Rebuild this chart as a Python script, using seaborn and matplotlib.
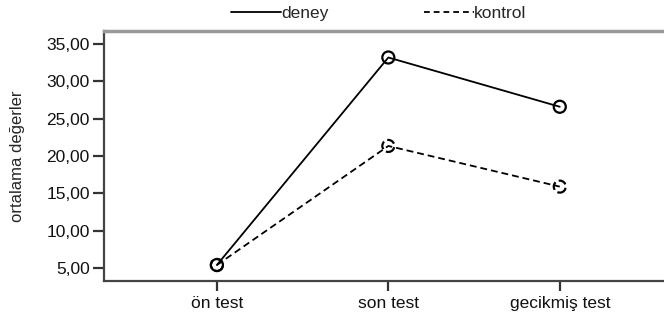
import matplotlib
matplotlib.use('Agg')
import matplotlib.pyplot as plt
from matplotlib.lines import Line2D
from matplotlib.ticker import FuncFormatter
import seaborn as sns
import pandas as pd

# data
tests = ["ön test", "son test", "gecikmiş test"]
deney = [5.4, 33.2, 26.6]
kontrol = [5.4, 21.35, 15.9]
y_ticks = [5, 10, 15, 20, 25, 30, 35]

df = pd.DataFrame({
    "test": tests * 2,
    "deger": deney + kontrol,
    "grup": ["deney"] * 3 + ["kontrol"] * 3,
})

sns.set_style("white")
plt.rcParams["font.family"] = ["Liberation Sans", "DejaVu Sans"]
plt.rcParams["font.size"] = 12

fig = plt.figure(figsize=(6.64, 3.27), dpi=100)
ax = fig.add_axes([0.156, 0.1407, 0.844, 0.7643])

sns.lineplot(
    data=df, x="test", y="deger", style="grup",
    dashes={"deney": "", "kontrol": (3.8, 2.2)},
    color="black", linewidth=1.3, sort=False, legend=False, ax=ax,
)

# open circle markers (dashed for kontrol, SPSS-style)
for grp, ls in [("deney", "-"), ("kontrol", "--")]:
    sub = df[df["grup"] == grp]
    sns.scatterplot(
        data=sub, x="test", y="deger", s=75, marker="o",
        facecolors="none", edgecolors="black", linewidths=1.6,
        linestyle=ls, legend=False, ax=ax, zorder=3,
    )

ax.set_xlim(-0.661, 2.608)
ax.set_ylim(3.26, 36.74)
ax.set_yticks(y_ticks)
ax.yaxis.set_major_formatter(FuncFormatter(lambda v, p: f"{v:.2f}".replace(".", ",")))
ax.set_xlabel("")
ax.set_ylabel("ortalama değerler", fontsize=12)
ax.yaxis.set_label_coords(-0.14, 0.5)

ax.tick_params(axis="both", direction="out", width=1.6, left=True, bottom=True,
               color="#333333", labelsize=12.5, labelcolor="#111111")
ax.tick_params(axis="x", length=7.5, pad=3)
ax.tick_params(axis="y", length=8, pad=2)

ax.spines["right"].set_visible(False)
ax.spines["top"].set_color("#999999")
ax.spines["top"].set_linewidth(2.5)
for s in ["left", "bottom"]:
    ax.spines[s].set_color("#444444")
    ax.spines[s].set_linewidth(1.6)

handles = [
    Line2D([], [], color="black", lw=1.3, ls="-"),
    Line2D([], [], color="black", lw=1.3, ls=(0, (3.2, 2.2))),
]
fig.legend(handles, ["deney", "kontrol"], loc="center", bbox_to_anchor=(0.57, 0.958),
           ncol=2, frameon=False, handlelength=2.9, handletextpad=0.0,
           columnspacing=5.5, fontsize=12.5)

fig.savefig("out.png", dpi=100)
plt.close()
